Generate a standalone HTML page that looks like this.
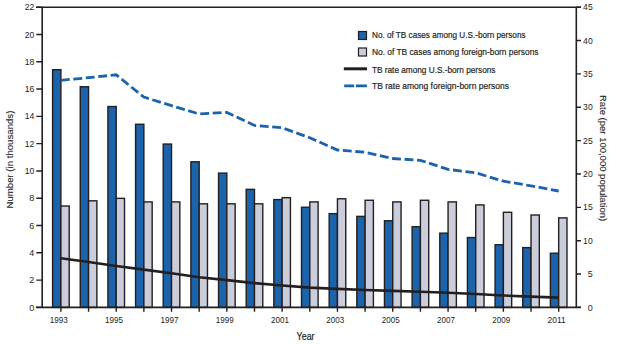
<!DOCTYPE html><html><head><meta charset="utf-8"><style>
html,body{margin:0;padding:0;background:#fff;}
svg{display:block;}
text{font-family:"Liberation Sans",sans-serif;fill:#231f20;stroke:#231f20;stroke-width:0.2px;}
text.n{stroke-width:0;}
</style></head><body>
<svg width="617" height="344" viewBox="0 0 617 344">
<rect x="52.60" y="69.69" width="8.30" height="237.71" fill="#1b63ab" stroke="#231f20" stroke-width="1.4"/>
<rect x="60.90" y="206.00" width="8.30" height="101.40" fill="#cbcddb" stroke="#231f20" stroke-width="1.4"/>
<rect x="80.26" y="86.74" width="8.30" height="220.66" fill="#1b63ab" stroke="#231f20" stroke-width="1.4"/>
<rect x="88.56" y="200.82" width="8.30" height="106.58" fill="#cbcddb" stroke="#231f20" stroke-width="1.4"/>
<rect x="107.91" y="106.53" width="8.30" height="200.87" fill="#1b63ab" stroke="#231f20" stroke-width="1.4"/>
<rect x="116.21" y="198.36" width="8.30" height="109.04" fill="#cbcddb" stroke="#231f20" stroke-width="1.4"/>
<rect x="135.56" y="124.27" width="8.30" height="183.13" fill="#1b63ab" stroke="#231f20" stroke-width="1.4"/>
<rect x="143.87" y="201.91" width="8.30" height="105.49" fill="#cbcddb" stroke="#231f20" stroke-width="1.4"/>
<rect x="163.22" y="144.05" width="8.30" height="163.35" fill="#1b63ab" stroke="#231f20" stroke-width="1.4"/>
<rect x="171.52" y="201.91" width="8.30" height="105.49" fill="#cbcddb" stroke="#231f20" stroke-width="1.4"/>
<rect x="190.88" y="161.79" width="8.30" height="145.61" fill="#1b63ab" stroke="#231f20" stroke-width="1.4"/>
<rect x="199.18" y="203.82" width="8.30" height="103.58" fill="#cbcddb" stroke="#231f20" stroke-width="1.4"/>
<rect x="218.53" y="173.12" width="8.30" height="134.28" fill="#1b63ab" stroke="#231f20" stroke-width="1.4"/>
<rect x="226.83" y="203.82" width="8.30" height="103.58" fill="#cbcddb" stroke="#231f20" stroke-width="1.4"/>
<rect x="246.19" y="189.36" width="8.30" height="118.04" fill="#1b63ab" stroke="#231f20" stroke-width="1.4"/>
<rect x="254.49" y="203.82" width="8.30" height="103.58" fill="#cbcddb" stroke="#231f20" stroke-width="1.4"/>
<rect x="273.84" y="199.59" width="8.30" height="107.81" fill="#1b63ab" stroke="#231f20" stroke-width="1.4"/>
<rect x="282.14" y="197.68" width="8.30" height="109.72" fill="#cbcddb" stroke="#231f20" stroke-width="1.4"/>
<rect x="301.50" y="207.23" width="8.30" height="100.17" fill="#1b63ab" stroke="#231f20" stroke-width="1.4"/>
<rect x="309.80" y="201.91" width="8.30" height="105.49" fill="#cbcddb" stroke="#231f20" stroke-width="1.4"/>
<rect x="329.15" y="213.65" width="8.30" height="93.75" fill="#1b63ab" stroke="#231f20" stroke-width="1.4"/>
<rect x="337.45" y="198.77" width="8.30" height="108.63" fill="#cbcddb" stroke="#231f20" stroke-width="1.4"/>
<rect x="356.81" y="216.38" width="8.30" height="91.02" fill="#1b63ab" stroke="#231f20" stroke-width="1.4"/>
<rect x="365.11" y="200.27" width="8.30" height="107.13" fill="#cbcddb" stroke="#231f20" stroke-width="1.4"/>
<rect x="384.46" y="220.74" width="8.30" height="86.66" fill="#1b63ab" stroke="#231f20" stroke-width="1.4"/>
<rect x="392.76" y="201.91" width="8.30" height="105.49" fill="#cbcddb" stroke="#231f20" stroke-width="1.4"/>
<rect x="412.11" y="226.75" width="8.30" height="80.65" fill="#1b63ab" stroke="#231f20" stroke-width="1.4"/>
<rect x="420.41" y="200.27" width="8.30" height="107.13" fill="#cbcddb" stroke="#231f20" stroke-width="1.4"/>
<rect x="439.77" y="233.16" width="8.30" height="74.24" fill="#1b63ab" stroke="#231f20" stroke-width="1.4"/>
<rect x="448.07" y="201.91" width="8.30" height="105.49" fill="#cbcddb" stroke="#231f20" stroke-width="1.4"/>
<rect x="467.43" y="237.53" width="8.30" height="69.87" fill="#1b63ab" stroke="#231f20" stroke-width="1.4"/>
<rect x="475.73" y="204.91" width="8.30" height="102.49" fill="#cbcddb" stroke="#231f20" stroke-width="1.4"/>
<rect x="495.08" y="244.76" width="8.30" height="62.64" fill="#1b63ab" stroke="#231f20" stroke-width="1.4"/>
<rect x="503.38" y="212.28" width="8.30" height="95.12" fill="#cbcddb" stroke="#231f20" stroke-width="1.4"/>
<rect x="522.74" y="247.62" width="8.30" height="59.78" fill="#1b63ab" stroke="#231f20" stroke-width="1.4"/>
<rect x="531.03" y="215.01" width="8.30" height="92.39" fill="#cbcddb" stroke="#231f20" stroke-width="1.4"/>
<rect x="550.39" y="253.22" width="8.30" height="54.18" fill="#1b63ab" stroke="#231f20" stroke-width="1.4"/>
<rect x="558.69" y="217.88" width="8.30" height="89.52" fill="#cbcddb" stroke="#231f20" stroke-width="1.4"/>
<path d="M36 7.2H581M42.2 7.2V307.4M576.3 7.2V307.4M36 307.4H581" stroke="#231f20" stroke-width="1.6" fill="none"/>
<path d="M36.3 307.40H42.2M36.3 280.11H42.2M36.3 252.82H42.2M36.3 225.53H42.2M36.3 198.24H42.2M36.3 170.95H42.2M36.3 143.65H42.2M36.3 116.36H42.2M36.3 89.07H42.2M36.3 61.78H42.2M36.3 34.49H42.2M36.3 7.20H42.2M576.3 307.40H581M576.3 274.04H581M576.3 240.69H581M576.3 207.33H581M576.3 173.98H581M576.3 140.62H581M576.3 107.27H581M576.3 73.91H581M576.3 40.56H581M576.3 7.20H581M60.90 307.4V311.8M88.56 307.4V311.8M116.21 307.4V311.8M143.87 307.4V311.8M171.52 307.4V311.8M199.18 307.4V311.8M226.83 307.4V311.8M254.49 307.4V311.8M282.14 307.4V311.8M309.80 307.4V311.8M337.45 307.4V311.8M365.11 307.4V311.8M392.76 307.4V311.8M420.41 307.4V311.8M448.07 307.4V311.8M475.73 307.4V311.8M503.38 307.4V311.8M531.03 307.4V311.8M558.69 307.4V311.8" stroke="#231f20" stroke-width="1.4" fill="none"/>
<polyline points="60.90,258.30 88.56,262.00 116.21,266.00 143.87,269.60 171.52,273.20 199.18,277.30 226.83,280.10 254.49,283.10 282.14,285.50 309.80,287.60 337.45,288.90 365.11,290.00 392.76,290.90 420.41,291.80 448.07,292.70 475.73,294.00 503.38,295.50 531.03,296.60 558.69,297.60" fill="none" stroke="#231f20" stroke-width="2.6" stroke-linejoin="round"/>
<polyline points="60.90,80.30 88.56,77.70 116.21,74.80 143.87,97.10 171.52,105.70 199.18,114.00 226.83,112.40 254.49,125.40 282.14,127.80 309.80,137.80 337.45,150.00 365.11,152.30 392.76,158.50 420.41,160.30 448.07,169.40 475.73,172.80 503.38,181.20 531.03,185.80 558.69,191.00" fill="none" stroke="#1b63ab" stroke-width="2.8" stroke-dasharray="8.9 3.6"/>
<text x="34.3" y="310.50" font-size="9.6" text-anchor="end" class="n" textLength="5.0" lengthAdjust="spacingAndGlyphs">0</text>
<text x="34.3" y="283.21" font-size="9.6" text-anchor="end" class="n" textLength="5.0" lengthAdjust="spacingAndGlyphs">2</text>
<text x="34.3" y="255.92" font-size="9.6" text-anchor="end" class="n" textLength="5.0" lengthAdjust="spacingAndGlyphs">4</text>
<text x="34.3" y="228.63" font-size="9.6" text-anchor="end" class="n" textLength="5.0" lengthAdjust="spacingAndGlyphs">6</text>
<text x="34.3" y="201.34" font-size="9.6" text-anchor="end" class="n" textLength="5.0" lengthAdjust="spacingAndGlyphs">8</text>
<text x="34.3" y="174.05" font-size="9.6" text-anchor="end" class="n" textLength="9.6" lengthAdjust="spacingAndGlyphs">10</text>
<text x="34.3" y="146.75" font-size="9.6" text-anchor="end" class="n" textLength="9.6" lengthAdjust="spacingAndGlyphs">12</text>
<text x="34.3" y="119.46" font-size="9.6" text-anchor="end" class="n" textLength="9.6" lengthAdjust="spacingAndGlyphs">14</text>
<text x="34.3" y="92.17" font-size="9.6" text-anchor="end" class="n" textLength="9.6" lengthAdjust="spacingAndGlyphs">16</text>
<text x="34.3" y="64.88" font-size="9.6" text-anchor="end" class="n" textLength="9.6" lengthAdjust="spacingAndGlyphs">18</text>
<text x="34.3" y="37.59" font-size="9.6" text-anchor="end" class="n" textLength="9.6" lengthAdjust="spacingAndGlyphs">20</text>
<text x="34.3" y="10.30" font-size="9.6" text-anchor="end" class="n" textLength="9.6" lengthAdjust="spacingAndGlyphs">22</text>
<text x="592.7" y="310.50" font-size="9.6" text-anchor="end" class="n" textLength="5.0" lengthAdjust="spacingAndGlyphs">0</text>
<text x="592.7" y="277.14" font-size="9.6" text-anchor="end" class="n" textLength="5.0" lengthAdjust="spacingAndGlyphs">5</text>
<text x="592.7" y="243.79" font-size="9.6" text-anchor="end" class="n" textLength="9.6" lengthAdjust="spacingAndGlyphs">10</text>
<text x="592.7" y="210.43" font-size="9.6" text-anchor="end" class="n" textLength="9.6" lengthAdjust="spacingAndGlyphs">15</text>
<text x="592.7" y="177.08" font-size="9.6" text-anchor="end" class="n" textLength="9.6" lengthAdjust="spacingAndGlyphs">20</text>
<text x="592.7" y="143.72" font-size="9.6" text-anchor="end" class="n" textLength="9.6" lengthAdjust="spacingAndGlyphs">25</text>
<text x="592.7" y="110.37" font-size="9.6" text-anchor="end" class="n" textLength="9.6" lengthAdjust="spacingAndGlyphs">30</text>
<text x="592.7" y="77.01" font-size="9.6" text-anchor="end" class="n" textLength="9.6" lengthAdjust="spacingAndGlyphs">35</text>
<text x="592.7" y="43.66" font-size="9.6" text-anchor="end" class="n" textLength="9.6" lengthAdjust="spacingAndGlyphs">40</text>
<text x="592.7" y="10.30" font-size="9.6" text-anchor="end" class="n" textLength="9.6" lengthAdjust="spacingAndGlyphs">45</text>
<text x="58.80" y="322.9" font-size="9.6" text-anchor="middle" class="n" textLength="18.0" lengthAdjust="spacingAndGlyphs">1993</text>
<text x="114.11" y="322.9" font-size="9.6" text-anchor="middle" class="n" textLength="18.0" lengthAdjust="spacingAndGlyphs">1995</text>
<text x="169.42" y="322.9" font-size="9.6" text-anchor="middle" class="n" textLength="18.0" lengthAdjust="spacingAndGlyphs">1997</text>
<text x="224.73" y="322.9" font-size="9.6" text-anchor="middle" class="n" textLength="18.0" lengthAdjust="spacingAndGlyphs">1999</text>
<text x="280.04" y="322.9" font-size="9.6" text-anchor="middle" class="n" textLength="18.0" lengthAdjust="spacingAndGlyphs">2001</text>
<text x="335.35" y="322.9" font-size="9.6" text-anchor="middle" class="n" textLength="18.0" lengthAdjust="spacingAndGlyphs">2003</text>
<text x="390.66" y="322.9" font-size="9.6" text-anchor="middle" class="n" textLength="18.0" lengthAdjust="spacingAndGlyphs">2005</text>
<text x="445.97" y="322.9" font-size="9.6" text-anchor="middle" class="n" textLength="18.0" lengthAdjust="spacingAndGlyphs">2007</text>
<text x="501.28" y="322.9" font-size="9.6" text-anchor="middle" class="n" textLength="18.0" lengthAdjust="spacingAndGlyphs">2009</text>
<text x="556.59" y="322.9" font-size="9.6" text-anchor="middle" class="n" textLength="18.0" lengthAdjust="spacingAndGlyphs">2011</text>
<text x="305.6" y="340" font-size="10" text-anchor="middle" textLength="18" lengthAdjust="spacingAndGlyphs">Year</text>
<text transform="translate(13.1,159.6) rotate(-90)" style="stroke-width:0.1px" font-size="9.8" text-anchor="middle" textLength="97.9" lengthAdjust="spacingAndGlyphs">Number (in thousands)</text>
<text transform="translate(599.5,158) rotate(90)" style="stroke-width:0.1px" font-size="9.5" text-anchor="middle">Rate (per 100,000 population)</text>
<rect x="358.5" y="31.5" width="8" height="8" fill="#1b63ab" stroke="#231f20" stroke-width="1.2"/>
<rect x="358.5" y="48" width="8" height="8" fill="#cbcddb" stroke="#231f20" stroke-width="1.2"/>
<path d="M343.8 68.8H367" stroke="#231f20" stroke-width="3"/>
<path d="M344.2 85.8H354.2M356 85.8H366.9" stroke="#1b63ab" stroke-width="2.8"/>
<text x="372" y="38.40" font-size="9.5" textLength="153.5" lengthAdjust="spacingAndGlyphs">No. of TB cases among U.S.-born persons</text>
<text x="372" y="55.40" font-size="9.5" textLength="166.5" lengthAdjust="spacingAndGlyphs">No. of TB cases among foreign-born persons</text>
<text x="372" y="72.60" font-size="9.5" textLength="123.5" lengthAdjust="spacingAndGlyphs">TB rate among U.S.-born persons</text>
<text x="372" y="88.60" font-size="9.5" textLength="137.0" lengthAdjust="spacingAndGlyphs">TB rate among foreign-born persons</text>
</svg></body></html>
